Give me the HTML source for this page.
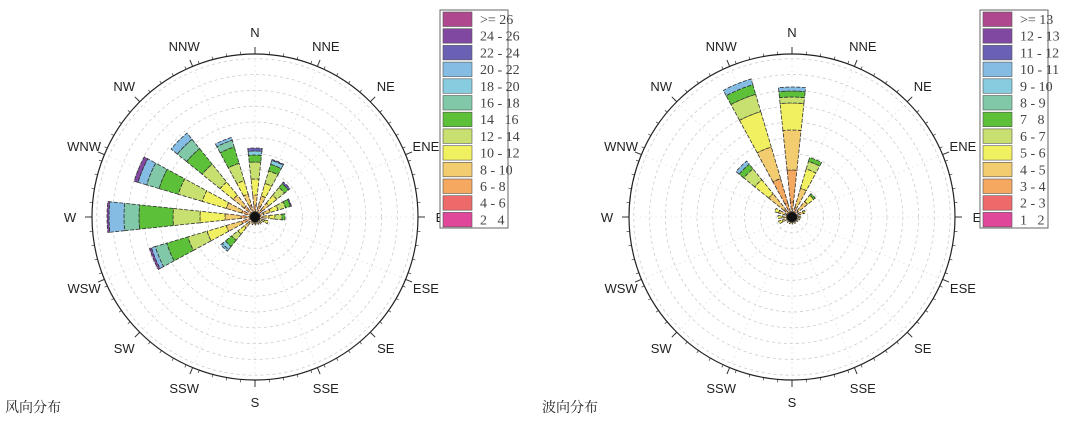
<!DOCTYPE html>
<html><head><meta charset="utf-8"><style>
body{margin:0;background:#fff;width:1080px;height:422px;overflow:hidden}
svg text{font-family:"Liberation Sans",sans-serif;font-size:13px;fill:#222}
.lg{font-family:"Liberation Serif",serif;font-size:14px;fill:#444}
.cap{font-family:"Liberation Serif","Noto Serif CJK SC",serif;font-size:14px;fill:#222}
</style></head><body>
<svg id="s" width="1080" height="422" xmlns="http://www.w3.org/2000/svg"></svg>
<script>
const C=["#e0479a","#ee6a6a","#f4a860","#f4cc70","#f0f060","#c8e070","#5cc038","#80c8a8","#88cce0","#84bce4","#6a60b4","#8048a0","#b04890"];
const s=document.getElementById('s');let h='';
const dirs=["N","NNE","NE","ENE","E","ESE","SE","SSE","S","SSW","SW","WSW","W","WNW","NW","NNW"];
function P(cx,cy,r,a){a=a*Math.PI/180;return [cx+r*Math.sin(a),cy-r*Math.cos(a)];}
function wedge(cx,cy,a,r0,r1,col){const w=6;const p1=P(cx,cy,r0,a-w),p2=P(cx,cy,r1,a-w),p3=P(cx,cy,r1,a+w),p4=P(cx,cy,r0,a+w);
return `<path d="M${p1}L${p2}A${r1} ${r1} 0 0 1 ${p3}L${p4}A${r0} ${r0} 0 0 0 ${p1}Z" fill="${col}" stroke="#333" stroke-width="0.8" stroke-dasharray="4,1.5"/>`;}
function rose(cx,cy,R,data){
 for(let i=1;i<=10;i++)h+=`<circle cx="${cx}" cy="${cy}" r="${R*i/10.3}" fill="none" stroke="#ccc" stroke-width="0.8" stroke-dasharray="3,3"/>`;
 for(let i=0;i<16;i++){const a=P(cx,cy,R*0.97,i*22.5),b=P(cx,cy,R,i*22.5);h+=`<line x1="${cx}" y1="${cy}" x2="${a[0]}" y2="${a[1]}" stroke="#ddd" stroke-width="0.6" stroke-dasharray="2,3"/>`;
  const c=P(cx,cy,R+7,i*22.5);h+=`<line x1="${b[0]}" y1="${b[1]}" x2="${c[0]}" y2="${c[1]}" stroke="#333"/>`;
  const t=P(cx,cy,R+22,i*22.5);h+=`<text x="${t[0]}" y="${t[1]+5}" text-anchor="middle">${dirs[i]}</text>`;}
 for(let i=0;i<72;i++){const b=P(cx,cy,R,i*5),c=P(cx,cy,R+3,i*5);h+=`<line x1="${b[0]}" y1="${b[1]}" x2="${c[0]}" y2="${c[1]}" stroke="#333" stroke-width="0.7"/>`;}
 h+=`<circle cx="${cx}" cy="${cy}" r="${R}" fill="none" stroke="#222" stroke-width="1.2"/>`;
 data.forEach((d,i)=>{let r0=2;d.forEach(([r,c])=>{h+=wedge(cx,cy,i*22.5,r0,r,C[c]);r0=r;});});
 h+=`<circle cx="${cx}" cy="${cy}" r="5" fill="#111"/>`;
}
const L=[
[[12,2],[22,3],[38,4],[55,5],[62,6],[66,8],[69,10]],
[[12,2],[22,3],[35,4],[48,5],[55,6],[59,8],[60,10]],
[[10,2],[18,3],[28,4],[38,5],[43,6],[45,10]],
[[9,2],[16,3],[24,4],[32,5],[37,6],[38,10]],
[[8,2],[14,3],[20,4],[27,5],[30,6]],
[[6,2],[10,3],[14,4]],[[5,2],[9,3]],[[5,2],[8,3]],[[5,2],[8,3]],[[5,2],[8,3]],
[[8,2],[14,3],[22,4],[30,5],[38,6],[42,8],[44,9]],
[[14,2],[30,3],[50,4],[70,5],[92,6],[104,7],[108,9],[110,11]],
[[14,2],[30,3],[55,4],[82,5],[116,6],[131,7],[146,9],[148,11]],
[[14,2],[30,3],[55,4],[80,5],[100,6],[113,7],[122,9],[126,11]],
[[14,2],[28,3],[45,4],[68,5],[88,6],[100,7],[108,9]],
[[12,2],[24,3],[38,4],[56,5],[73,6],[80,7],[83,9]]];
const Rr=[
[[15,2],[47,2],[87,3],[114,4],[120,5],[126,6],[130,9]],
[[10,2],[30,3],[50,4],[58,5],[62,6]],
[[8,2],[20,3],[28,4],[30,6]],
[[6,2],[12,3],[14,4]],[[5,2],[9,3]],[[5,2],[8,3]],[[4,2],[7,3]],[[4,2],[7,3]],[[4,2],[7,3]],[[4,2],[7,3]],[[4,2],[7,3]],
[[5,2],[10,3],[14,4]],[[5,2],[10,3],[14,4]],[[6,2],[14,3],[18,4]],
[[10,2],[30,3],[48,4],[62,5],[68,6],[72,9]],
[[15,2],[40,2],[73,3],[110,4],[128,5],[138,6],[144,9]]];
rose(255,217,163,L);rose(792,217,163,Rr);
function legend(x,labs){h+=`<rect x="${x}" y="10" width="68" height="218" fill="#fff" stroke="#666"/>`;
 labs.forEach((t,i)=>{const y=12+i*16.7;h+=`<rect x="${x+3}" y="${y}" width="29" height="14.5" fill="${C[12-i]}" stroke="#555" stroke-width="0.6"/><text class="lg" x="${x+40}" y="${y+12}">${t}</text>`;});}
legend(440,[">= 26","24 - 26","22 - 24","20 - 22","18 - 20","16 - 18","14 &#160;&#160;16","12 - 14","10 - 12","8 - 10","6 - 8","4 - 6","2 &#160;&#160;4"]);
legend(980,[">= 13","12 - 13","11 - 12","10 - 11","9 - 10","8 - 9","7 &#160;&#160;8","6 - 7","5 - 6","4 - 5","3 - 4","2 - 3","1 &#160;&#160;2"]);
h+=`<text class="cap" x="5" y="412">风向分布</text><text class="cap" x="542" y="412">波向分布</text>`;
s.innerHTML=h;
</script></body></html>
